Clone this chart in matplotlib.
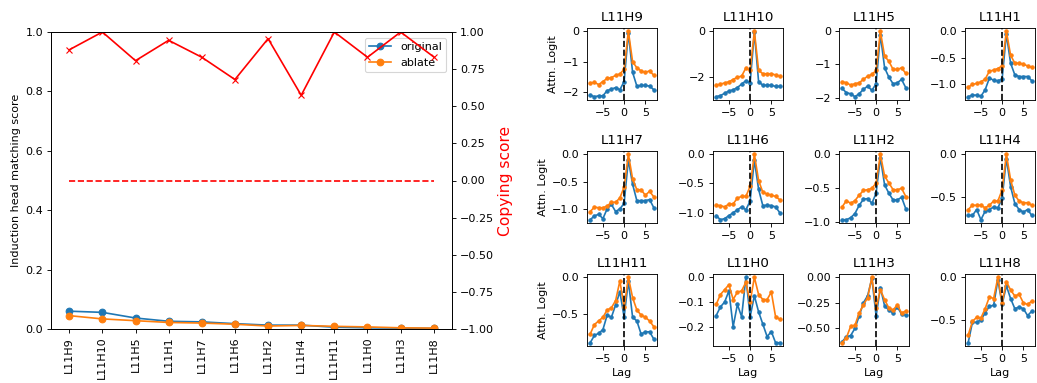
import numpy as np
import matplotlib
matplotlib.use("Agg")
import matplotlib.pyplot as plt

heads = ["L11H9", "L11H10", "L11H5", "L11H1", "L11H7", "L11H6",
         "L11H2", "L11H4", "L11H11", "L11H0", "L11H3", "L11H8"]
original = [0.060, 0.056, 0.037, 0.026, 0.024, 0.018, 0.013, 0.013, 0.006, 0.004, 0.003, 0.002]
ablate = [0.045, 0.034, 0.028, 0.022, 0.020, 0.016, 0.010, 0.012, 0.009, 0.007, 0.004, 0.003]
copying = [0.88, 1.00, 0.807, 0.944, 0.83, 0.68, 0.955, 0.574, 1.00, 0.83, 1.00, 0.832]
baseline = [0.0] * len(heads)

lags = list(range(-8, 8))
attn_orig = {
    "L11H9": [-2.10, -2.15, -2.12, -2.12, -1.95, -1.90, -1.85, -1.92, -1.65, -0.05, -1.35, -1.80, -1.78, -1.78, -1.80, -1.92],
    "L11H10": [-2.85, -2.80, -2.70, -2.60, -2.55, -2.45, -2.30, -2.15, -2.25, -0.05, -2.20, -2.35, -2.35, -2.35, -2.40, -2.40],
    "L11H5": [-1.72, -1.85, -1.88, -1.97, -1.88, -1.75, -1.65, -1.78, -1.58, -0.10, -1.10, -1.38, -1.58, -1.55, -1.45, -1.70],
    "L11H1": [-1.23, -1.20, -1.20, -1.22, -1.10, -0.88, -0.92, -0.93, -0.90, -0.05, -0.60, -0.82, -0.85, -0.85, -0.85, -0.93],
    "L11H7": [-1.20, -1.13, -1.10, -1.18, -1.00, -0.92, -1.05, -1.00, -0.90, -0.10, -0.55, -0.85, -0.85, -0.85, -0.83, -0.98],
    "L11H6": [-1.05, -1.12, -1.10, -1.05, -1.00, -0.95, -0.90, -0.95, -0.80, -0.10, -0.60, -0.88, -0.87, -0.88, -0.90, -1.00],
    "L11H2": [-0.96, -0.96, -0.93, -0.87, -0.75, -0.66, -0.65, -0.72, -0.57, -0.05, -0.45, -0.57, -0.67, -0.67, -0.63, -0.80],
    "L11H4": [-0.72, -0.72, -0.65, -0.77, -0.67, -0.65, -0.62, -0.63, -0.52, -0.05, -0.38, -0.58, -0.65, -0.68, -0.65, -0.72],
    "L11H11": [-0.90, -0.80, -0.77, -0.72, -0.52, -0.55, -0.38, -0.20, -0.55, -0.05, -0.55, -0.60, -0.78, -0.75, -0.75, -0.85],
    "L11H0": [-0.155, -0.12, -0.10, -0.055, -0.20, -0.11, -0.16, 0.0, -0.16, -0.075, -0.14, -0.19, -0.24, -0.22, -0.265, -0.265],
    "L11H3": [-0.63, -0.58, -0.57, -0.50, -0.38, -0.25, -0.18, -0.01, -0.38, -0.10, -0.28, -0.32, -0.35, -0.29, -0.36, -0.37],
    "L11H8": [-0.77, -0.53, -0.53, -0.50, -0.42, -0.34, -0.33, -0.03, -0.32, -0.10, -0.25, -0.37, -0.35, -0.37, -0.45, -0.40],
}
attn_ablate = {
    "L11H9": [-1.70, -1.68, -1.75, -1.65, -1.55, -1.52, -1.45, -1.40, -1.25, 0.0, -1.00, -1.20, -1.30, -1.35, -1.30, -1.45],
    "L11H10": [-2.35, -2.30, -2.25, -2.20, -2.10, -2.00, -1.95, -1.60, -1.70, 0.0, -1.70, -1.85, -1.85, -1.85, -1.90, -1.95],
    "L11H5": [-1.52, -1.55, -1.62, -1.58, -1.55, -1.45, -1.35, -1.30, -1.18, 0.0, -0.75, -0.90, -1.15, -1.15, -1.10, -1.27],
    "L11H1": [-1.05, -1.00, -0.98, -0.95, -0.90, -0.75, -0.73, -0.70, -0.65, 0.0, -0.45, -0.60, -0.60, -0.62, -0.65, -0.68],
    "L11H7": [-1.05, -0.97, -0.98, -0.98, -0.95, -0.88, -0.88, -0.80, -0.60, 0.0, -0.45, -0.65, -0.65, -0.75, -0.68, -0.78],
    "L11H6": [-0.87, -0.88, -0.90, -0.85, -0.85, -0.75, -0.72, -0.72, -0.55, 0.0, -0.45, -0.65, -0.68, -0.70, -0.72, -0.78],
    "L11H2": [-0.77, -0.68, -0.72, -0.68, -0.60, -0.53, -0.52, -0.50, -0.42, 0.0, -0.32, -0.42, -0.52, -0.52, -0.50, -0.62],
    "L11H4": [-0.65, -0.60, -0.60, -0.60, -0.63, -0.60, -0.55, -0.55, -0.42, 0.0, -0.30, -0.48, -0.55, -0.57, -0.57, -0.60],
    "L11H11": [-0.78, -0.65, -0.60, -0.55, -0.45, -0.42, -0.32, -0.05, -0.41, 0.0, -0.28, -0.45, -0.52, -0.55, -0.60, -0.68],
    "L11H0": [-0.11, -0.07, -0.05, -0.03, -0.09, -0.06, -0.055, -0.02, -0.10, 0.0, -0.07, -0.09, -0.09, -0.06, -0.16, -0.17],
    "L11H3": [-0.64, -0.59, -0.48, -0.47, -0.35, -0.27, -0.20, 0.0, -0.30, -0.12, -0.22, -0.30, -0.32, -0.27, -0.35, -0.33],
    "L11H8": [-0.68, -0.52, -0.47, -0.48, -0.37, -0.23, -0.25, 0.0, -0.30, -0.05, -0.15, -0.22, -0.20, -0.30, -0.32, -0.28],
}

W, H = 1037, 383
DPI = 80
fig = plt.figure(figsize=(W / DPI, H / DPI), dpi=DPI)

def px_axes(x0, y0, x1, y1):
    return fig.add_axes([x0 / W, 1 - y1 / H, (x1 - x0) / W, (y1 - y0) / H])

ax1 = px_axes(51, 32, 452, 329)
ax1.plot(heads, original, "o-", label="original")
ax1.plot(heads, ablate, "o-", label="ablate")
ax1.set_ylim(0, 1)
ax1.set_ylabel("Induction head matching score")
ax1.tick_params(axis="x", labelrotation=90)
ax1.legend(loc="upper right")

ax2 = ax1.twinx()
ax2.plot(heads, copying, "rx-")
ax2.plot(heads, baseline, "r--")
ax2.set_ylim(-1, 1)
ax2.set_ylabel("Copying score", color="red", fontsize=14)

col_left = [587, 713, 839, 965]
row_top = [28, 151, 274]
aw, ah = 70, 72
for i, name in enumerate(heads):
    r, c = divmod(i, 4)
    x0, y0 = col_left[c], row_top[r]
    ax = px_axes(x0, y0, x0 + aw, y0 + ah)
    ax.plot(lags, attn_orig[name], "o-", markersize=3)
    ax.plot(lags, attn_ablate[name], "o-", markersize=3)
    ax.axvline(0, color="k", linestyle="--")
    ax.set_title(name)
    if c == 0:
        ax.set_ylabel("Attn. Logit")
    if r == 2:
        ax.set_xlabel("Lag")

fig.savefig("out.png", dpi=DPI)
